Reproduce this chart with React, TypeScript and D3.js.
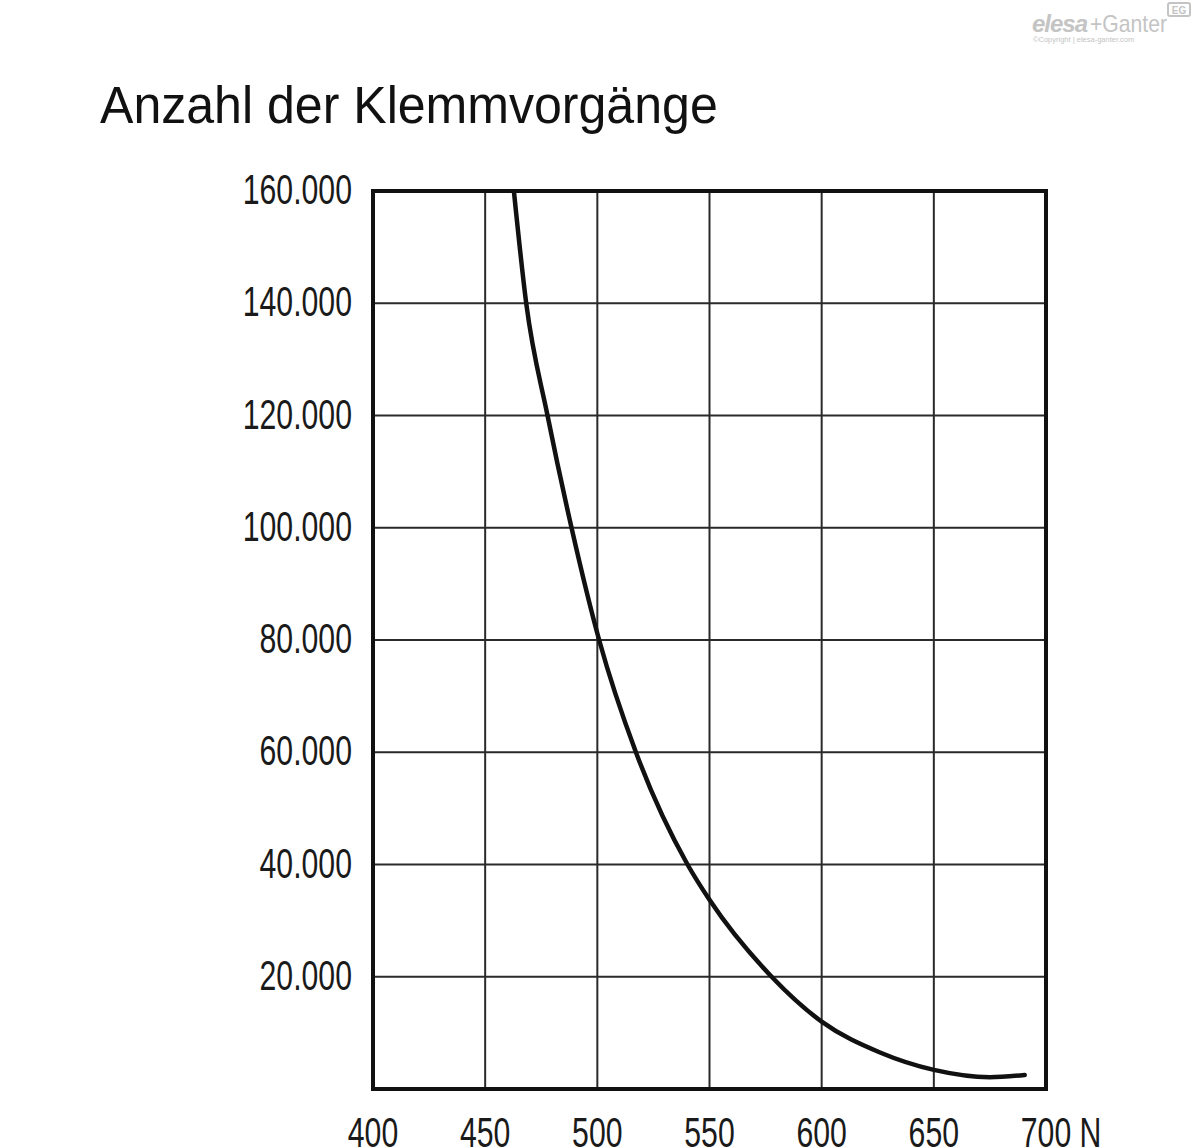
import React from "react";
import * as d3 from "d3";

const forceN: number[] = [462.8, 468.3, 477.8, 488.5, 500.8, 517.2, 540.2, 550, 577.7, 600, 626, 650, 675, 690.5];
const cycles: number[] = [160000, 140000, 120000, 100000, 80000, 60000, 40000, 33700, 20000, 12000, 6500, 3400, 2100, 2500];
const xTicks: number[] = [400, 450, 500, 550, 600, 650, 700];
const yTicks: number[] = [20000, 40000, 60000, 80000, 100000, 120000, 140000, 160000];
const yTickLabels: string[] = ["20.000", "40.000", "60.000", "80.000", "100.000", "120.000", "140.000", "160.000"];
const title = "Anzahl der Klemmvorgänge";
const unit = "N";

const W = 1200;
const H = 1148;
const L = 373, R = 1046, T = 191, B = 1089;
const FONT = "'Liberation Sans', Arial, Helvetica, sans-serif";

export default function App() {
  const x = d3.scaleLinear().domain([400, 700]).range([L, R]);
  const y = d3.scaleLinear().domain([0, 160000]).range([B, T]);
  const pts = forceN.map((f, i) => [f, cycles[i]] as [number, number]);
  const line = d3
    .line<[number, number]>()
    .x((d) => x(d[0]))
    .y((d) => y(d[1]))
    .curve(d3.curveMonotoneX);
  const sx = 0.72;
  const fs = 42;
  return (
    <svg
      width={W}
      height={H}
      viewBox={`0 0 ${W} ${H}`}
      style={{ position: "absolute", left: 0, top: 0, background: "#fff" }}
    >
      <rect x={0} y={0} width={W} height={H} fill="#fff" />
      {/* watermark */}
      <g fill="#c4c4c4" fontFamily={FONT}>
        <text x={1032} y={32} fontSize={24} fontWeight="bold" fontStyle="italic" letterSpacing={-1}>
          elesa
        </text>
        <text transform="translate(1090,32) scale(0.92,1)" fontSize={23}>+Ganter</text>
        <text x={1033} y={42} fontSize={7.5}>©Copyright | elesa-ganter.com</text>
        <rect x={1168} y={3} width={22} height={13} rx={2} fill="none" stroke="#c4c4c4" strokeWidth={2} />
        <text x={1179} y={14} fontSize={10} fontWeight="bold" textAnchor="middle">EG</text>
      </g>
      {/* title */}
      <text
        transform={`translate(100,123) scale(0.963,1)`}
        fontFamily={FONT}
        fontSize={52}
        fill="#111"
      >
        {title}
      </text>
      {/* grid */}
      <g stroke="#2a2a2a" strokeWidth={2}>
        {xTicks.slice(1, -1).map((t) => (
          <line key={"gx" + t} x1={x(t)} x2={x(t)} y1={T} y2={B} />
        ))}
        {yTicks.slice(0, -1).map((t) => (
          <line key={"gy" + t} x1={L} x2={R} y1={y(t)} y2={y(t)} />
        ))}
      </g>
      {/* curve */}
      <defs>
        <clipPath id="plotclip">
          <rect x={L} y={T} width={R - L} height={B - T} />
        </clipPath>
      </defs>
      <path
        d={line(pts) || ""}
        fill="none"
        stroke="#111"
        strokeWidth={4.5}
        strokeLinecap="round"
        clipPath="url(#plotclip)"
      />
      {/* frame */}
      <rect x={L} y={T} width={R - L} height={B - T} fill="none" stroke="#111" strokeWidth={4} />
      {/* y labels */}
      <g fontFamily={FONT} fontSize={fs} fill="#1a1a1a">
        {yTicks.map((t, i) => (
          <text key={"yl" + t} transform={`translate(352,${y(t) + 13}) scale(${sx},1)`} textAnchor="end">
            {yTickLabels[i]}
          </text>
        ))}
      </g>
      {/* x labels */}
      <g fontFamily={FONT} fontSize={fs} fill="#1a1a1a">
        {xTicks.map((t, i) =>
          i === xTicks.length - 1 ? (
            <text key={"xl" + t} transform={`translate(${x(t)},1147) scale(${sx},1)`} textAnchor="start" x={-fs * 0.834}>
              {String(t) + " " + unit}
            </text>
          ) : (
            <text key={"xl" + t} transform={`translate(${x(t)},1147) scale(${sx},1)`} textAnchor="middle">
              {String(t)}
            </text>
          )
        )}
      </g>
    </svg>
  );
}
